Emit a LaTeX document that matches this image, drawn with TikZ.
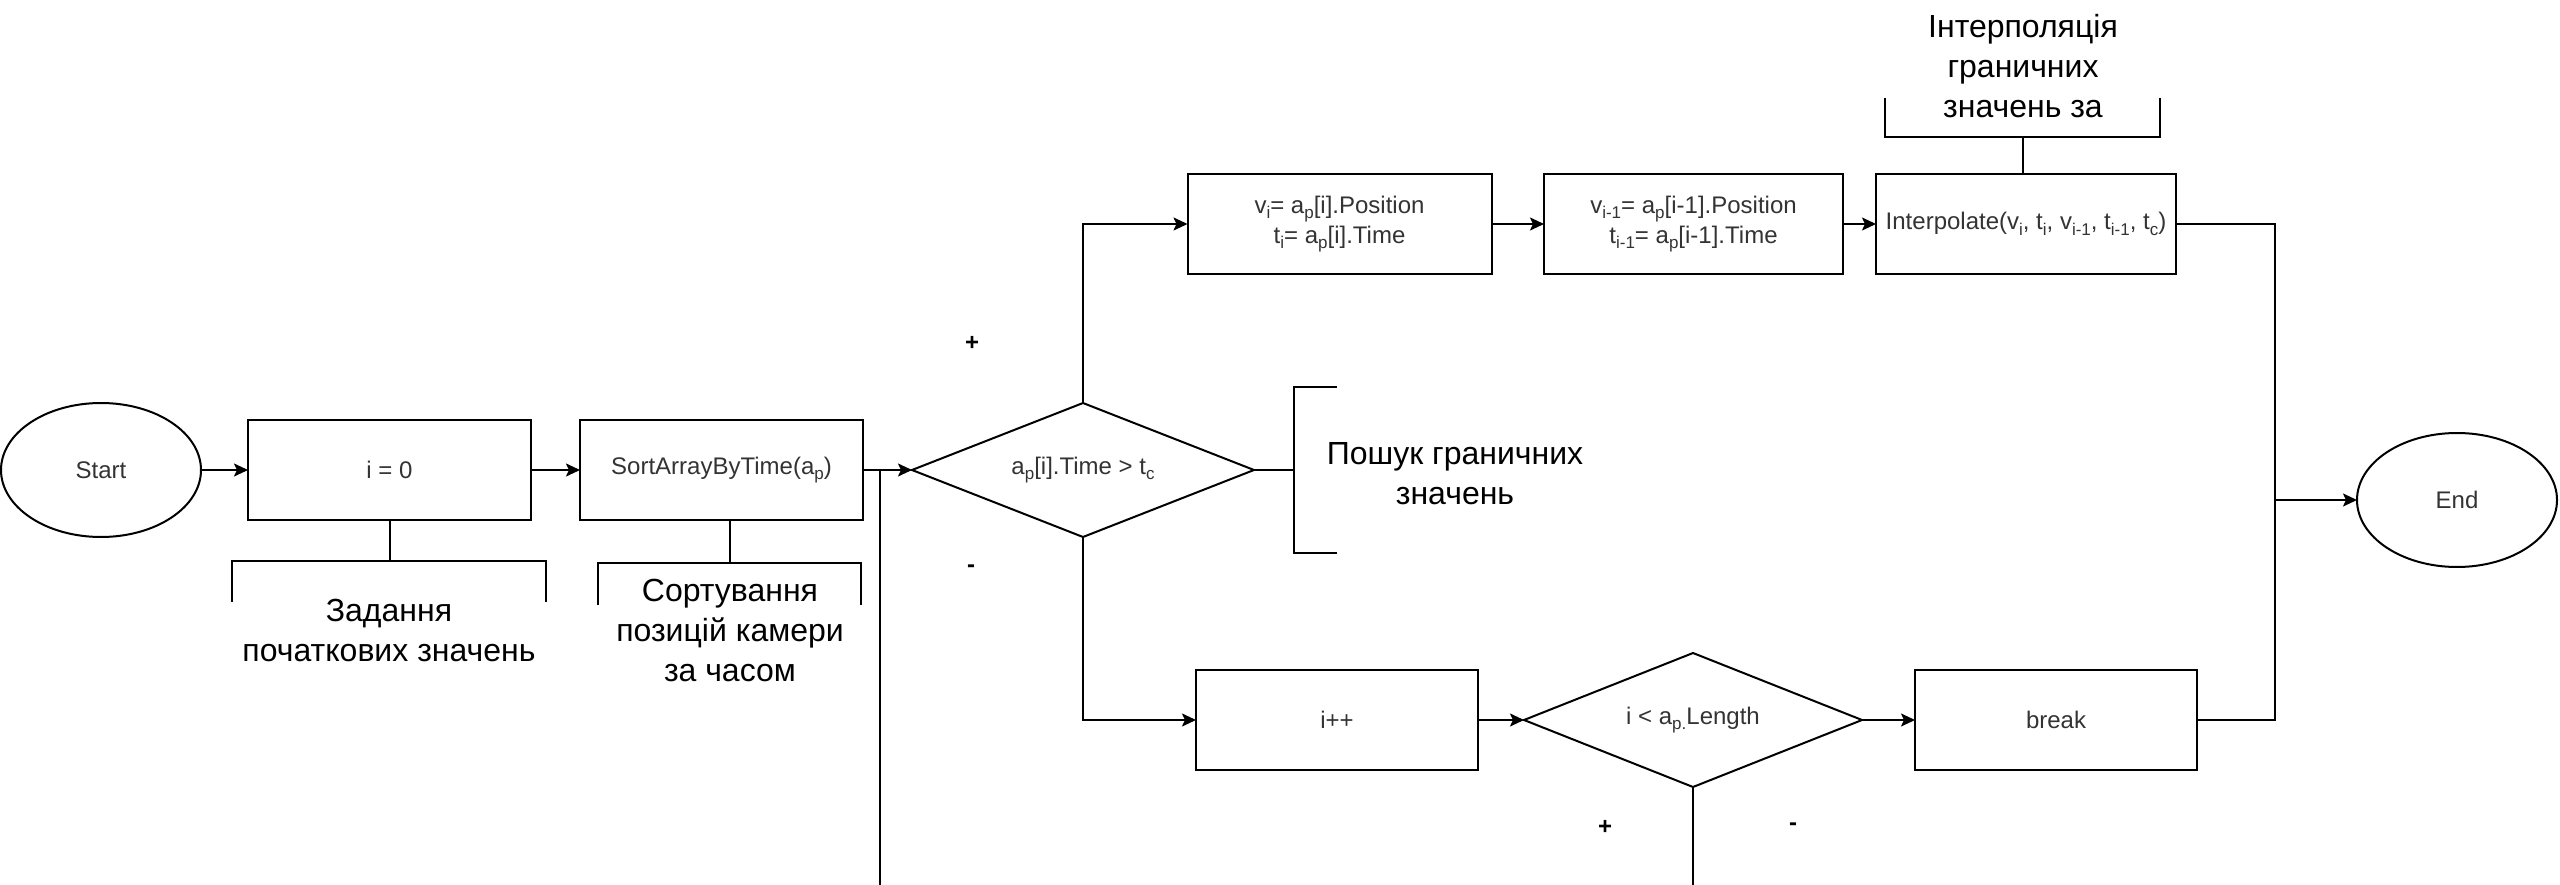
\documentclass[tikz,border=0pt]{standalone}
\usepackage{fontspec}
\setmainfont{Liberation Sans}
\usetikzlibrary{shapes.geometric,arrows.meta}
\definecolor{txtgray}{HTML}{333333}
\newcommand\sbs[1]{\raisebox{-0.22em}{\fontsize{17}{17}\selectfont #1}}
\begin{document}
\begin{tikzpicture}[x=1pt,y=-1pt,
  every node/.style={inner sep=0pt, outer sep=0pt},
  base/.style={draw=black, line width=2pt, font=\fontsize{24}{30}\selectfont, text=txtgray, align=center},
  proc/.style={base, rectangle, minimum height=100pt},
  term/.style={base, ellipse, minimum width=200pt, minimum height=134pt},
  cond/.style={base, diamond, aspect=2.5, minimum width=#1, minimum height=134pt},
  lbl/.style={font=\fontsize{32}{40}\selectfont, align=center, text=black, anchor=north},
  sign/.style={font=\fontsize{24}{30}\selectfont\bfseries, text=black},
  ln/.style={line width=2pt, draw=black},
  arr/.style={ln, -{Stealth[length=14pt,width=13pt,inset=3pt]}}]
\useasboundingbox (0,0) rectangle (2560,885);

% main nodes
\node[term] (start) at (101,470) {Start};
\node[proc, minimum width=283pt] (i0) at (389.5,470) {i = 0};
\node[proc, minimum width=283pt] (sort) at (721.5,470) {SortArrayByTime(a\sbs{p})};
\node[cond=342pt] (d1) at (1083,470) {a\sbs{p}[i].Time > t\sbs{c}};
\node[proc, minimum width=304pt] (vi) at (1339.5,224) {v\sbs{i}= a\sbs{p}[i].Position\\t\sbs{i}= a\sbs{p}[i].Time};
\node[proc, minimum width=299pt] (vim) at (1693.5,224) {v\sbs{i-1}= a\sbs{p}[i-1].Position\\t\sbs{i-1}= a\sbs{p}[i-1].Time};
\node[proc, minimum width=300pt] (interp) at (2026,224) {Interpolate(v\sbs{i}, t\sbs{i}, v\sbs{i-1}, t\sbs{i-1}, t\sbs{c})};
\node[term] (end) at (2457,500) {End};
\node[proc, minimum width=282pt] (inc) at (1337,720) {i++};
\node[cond=338pt] (d2) at (1693,720) {i < a\sbs{p.}Length};
\node[proc, minimum width=282pt] (brk) at (2056,720) {break};

% annotation labels
\node[lbl] (l0) at (389,599) {Задання\\початкових значень};
\node[lbl] (l1) at (730,579) {Сортування\\позицій камери\\за часом};
\node[lbl] (l2) at (1455,442) {Пошук граничних\\значень};
\node[lbl] (l3) at (2023,14) {Інтерполяція\\граничних\\значень за};

% signs
\node[sign] (p1) at (972,343) {+};
\node[sign] (m1) at (971,569) {-};
\node[sign] (p2) at (1605,827) {+};
\node[sign] (m2) at (1793,827) {-};

% annotation brackets
\coordinate (b0) at (389.5,561);
\draw[ln] (i0.south) -- (b0);
\draw[ln] (232,602) -- (232,561) -- (546,561) -- (546,602);
\coordinate (b1) at (730,563);
\draw[ln] (b1) -- (b1 |- sort.south);
\draw[ln] (598,605) -- (598,563) -- (861,563) -- (861,605);
\coordinate (b2) at (1294,470);
\draw[ln] (d1.east) -- (b2);
\draw[ln] (1337,387) -- (1294,387) -- (1294,553) -- (1337,553);
\coordinate (b3) at (2023,137);
\draw[ln] (b3) -- (b3 |- interp.north);
\draw[ln] (1885,98) -- (1885,137) -- (2160,137) -- (2160,98);

% connectors
\draw[arr] (start.east) -- (i0.west);
\draw[arr] (i0.east) -- (sort.west);
\draw[arr] (sort.east) -- (d1.west);
\coordinate (lb) at (880,885);
\draw[ln] (lb) -- (lb |- d1.west);
\draw[arr] (d1.north) |- (vi.west);
\draw[arr] (vi.east) -- (vim.west);
\draw[arr] (vim.east) -- (interp.west);
\coordinate (jx) at (2275,500);
\draw[ln] (interp.east) -| (jx) |- (brk.east);
\draw[arr] (jx) -- (end.west);
\draw[arr] (d1.south) |- (inc.west);
\draw[arr] (inc.east) -- (d2.west);
\draw[arr] (d2.east) -- (brk.west);
\coordinate (rb) at (1693,885);
\draw[ln] (d2.south) -- (rb);
\end{tikzpicture}
\end{document}
